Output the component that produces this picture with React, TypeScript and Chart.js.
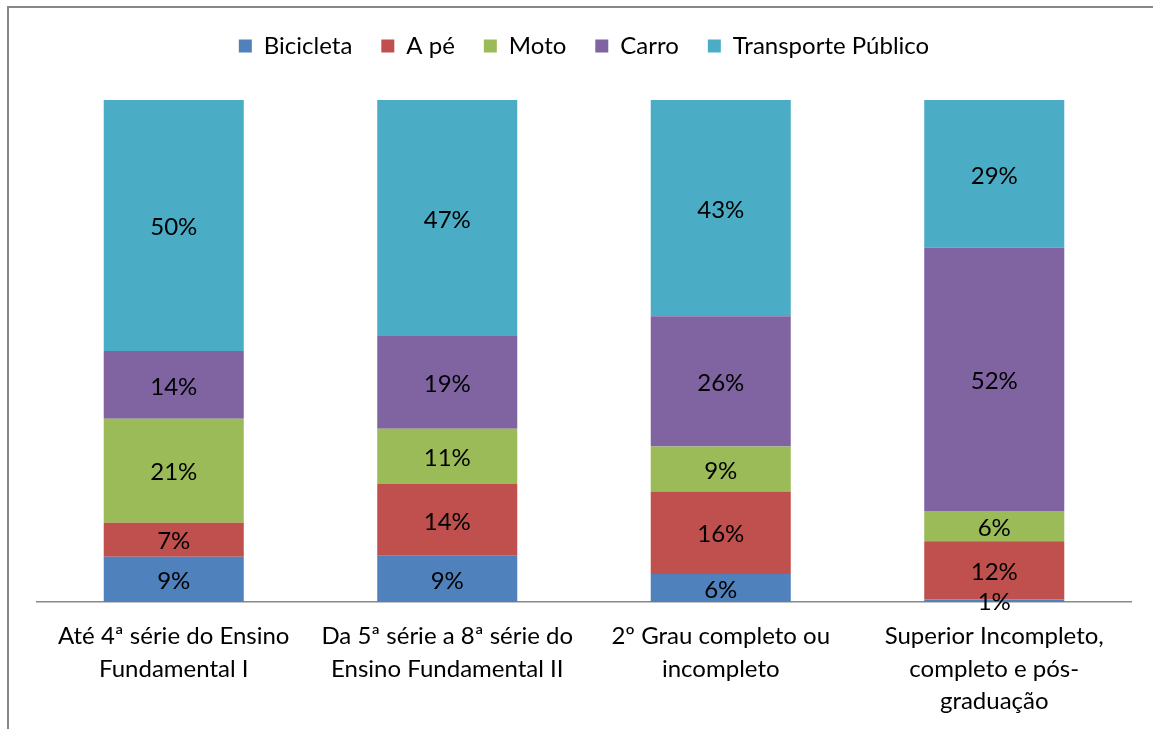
import React, { useEffect, useRef } from 'react';
import { Chart, registerables } from 'chart.js';

Chart.register(...registerables);

const categories: string[][] = [
  ['Até 4ª série do Ensino', 'Fundamental I'],
  ['Da 5ª série a 8ª série do', 'Ensino Fundamental II'],
  ['2º Grau completo ou', 'incompleto'],
  ['Superior Incompleto,', 'completo e pós-', 'graduação'],
];
const seriesNames = ['Bicicleta', 'A pé', 'Moto', 'Carro', 'Transporte Público'];
// shares (%); labels show the rounded value
const bicicleta = [9.0, 9.2, 5.6, 0.5];
const aPe = [6.8, 14.3, 16.4, 11.6];
const moto = [20.7, 11.0, 9.0, 6.0];
const carro = [13.5, 18.5, 25.9, 52.4];
const transportePublico = [50.0, 47.0, 43.1, 29.4];
const seriesColors = ['#4F81BD', '#C0504D', '#9BBB59', '#8064A2', '#4BACC6'];

const FONT = 'Lato';
const FONT_SIZE = 24;

export default function App() {
  const ref = useRef<HTMLCanvasElement | null>(null);

  useEffect(() => {
    const canvas = ref.current;
    if (!canvas) return;
    const series = [bicicleta, aPe, moto, carro, transportePublico];
    const totals = categories.map((_, j) => series.reduce((s, arr) => s + arr[j], 0));

    const datasets = series.map((arr, i) => ({
      label: seriesNames[i],
      data: arr.map((v, j) => (v / totals[j]) * 100),
      backgroundColor: seriesColors[i],
      borderWidth: 0,
      categoryPercentage: 1,
      barPercentage: 0.512,
    }));

    const legendSpacer = {
      id: 'legendSpacer',
      afterInit(chart: any) {
        const lg = chart.legend;
        if (!lg) return;
        const orig = lg.fit.bind(lg);
        lg.fit = () => {
          orig();
          lg.height += 32;
        };
      },
    };

    const frame = {
      id: 'frame',
      beforeDraw(chart: any) {
        const c = chart.ctx;
        c.save();
        c.fillStyle = '#ffffff';
        c.fillRect(0, 0, chart.width, chart.height);
        c.strokeStyle = '#878787';
        c.lineWidth = 2;
        c.beginPath();
        c.moveTo(8, chart.height + 2);
        c.lineTo(8, 7);
        c.lineTo(chart.width + 2, 7);
        c.stroke();
        c.restore();
      },
    };

    const valueLabels = {
      id: 'valueLabels',
      afterDatasetsDraw(chart: any) {
        const c = chart.ctx;
        c.save();
        c.font = `${FONT_SIZE}px ${FONT}`;
        c.fillStyle = '#000000';
        c.textAlign = 'center';
        c.textBaseline = 'middle';
        series.forEach((arr, i) => {
          const meta = chart.getDatasetMeta(i);
          meta.data.forEach((bar: any, j: number) => {
            const { x, y, base } = bar.getProps(['x', 'y', 'base'], true);
            c.fillText(`${Math.round(arr[j])}%`, x, (y + base) / 2 + 2);
          });
        });
        c.restore();
      },
    };

    const chart = new Chart(canvas, {
      type: 'bar',
      data: { labels: categories, datasets },
      plugins: [legendSpacer, frame, valueLabels],
      options: {
        animation: false,
        responsive: false,
        layout: { padding: { left: 37, right: 22, top: 5, bottom: 0 } },
        plugins: {
          legend: {
            position: 'top',
            labels: {
              boxWidth: 13,
              boxHeight: 13,
              padding: 29,
              color: '#000000',
              font: { family: FONT, size: FONT_SIZE },
            },
          },
          tooltip: { enabled: false },
        },
        scales: {
          x: {
            stacked: true,
            grid: { display: false, drawTicks: false },
            border: { display: true, color: '#888888', width: 1.5 },
            ticks: {
              color: '#000000',
              font: { family: FONT, size: FONT_SIZE, lineHeight: 1.355 },
              padding: 18,
              maxRotation: 0,
              minRotation: 0,
              autoSkip: false,
            },
            afterFit(scale: any) {
              scale.height = 127;
            },
          },
          y: {
            stacked: true,
            display: false,
            min: 0,
            max: 100,
          },
        },
      },
    });

    return () => chart.destroy();
  }, []);

  return (
    <div style={{ position: 'absolute', left: 0, top: 0, width: 1153, height: 729, background: '#fff' }}>
      <canvas ref={ref} width={1153} height={729} style={{ display: 'block' }} />
    </div>
  );
}
